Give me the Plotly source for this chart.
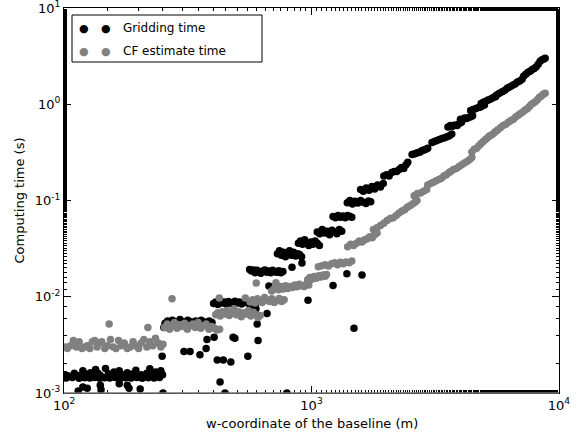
import plotly.graph_objects as go

# ---------------- data ----------------
grid_x = [
    # step 1 (~1.5e-3)
    101, 104, 107, 110, 113, 116, 119, 122, 125, 128, 131, 134, 137, 140, 143, 147, 151, 155, 159,
    163, 167, 171, 175, 180, 185, 190, 195, 200, 205, 210, 216, 222, 228, 234, 240, 246, 250,
    102, 108, 115, 121, 127, 133, 139, 146, 153, 161, 169, 177, 187, 197, 207, 219, 231, 243,
    114, 119, 140, 141, 180, 183, 203, 124, 167,
    # step 2 (~5.5e-3)
    249, 251, 253, 256, 262, 268, 274, 280, 287, 294, 301, 308, 316, 324, 332, 340, 349, 358, 367,
    376, 386, 396,
    305, 323, 354, 375, 378, 404, 416, 427, 440, 447, 472, 482, 490, 553, 603, 608, 661, 795,
    # step 3 (~8.7e-3)
    402, 410, 418, 426, 434, 443, 452, 461, 470, 480, 490, 500, 511, 522, 533, 545, 557, 569, 581,
    593, 585, 596,
    # step 4 (~1.8e-2)
    562, 572, 582, 592, 602, 613, 624, 635, 647, 659, 671, 684, 697, 710, 724, 738, 752, 766,
    834, 915, 673, 1222, 1390, 1600, 968, 1485,
    # step 5 (~2.8e-2)
    728, 742, 756, 770, 785, 800, 815, 830, 846, 862, 878, 895, 912,
    # step 6 (~3.6e-2)
    885, 902, 920, 938, 956, 975, 994, 1014, 1034, 1055, 1076,
    # step 7 (~4.7e-2)
    1055, 1080, 1105, 1130, 1156, 1183, 1210, 1238, 1267, 1296, 1325,
    # step 8 (~6.8e-2)
    1222, 1250, 1280, 1310, 1340, 1370, 1400, 1430, 1455,
    # step 9 (~0.1)
    1395, 1430, 1465, 1500, 1540, 1580, 1620, 1660, 1700, 1735,
    # step 10
    1580, 1620, 1665, 1710, 1755, 1800, 1850, 1900, 1950,
    # step 11
    1960, 2010, 2060, 2110, 2160, 2210, 2260, 2310, 2360, 2410, 2450,
    # step 12
    2550, 2600, 2650, 2700, 2750, 2800, 2850, 2900, 2950,
    # step 13
    3070, 3140, 3210, 3290, 3370, 3450, 3530, 3610, 3690,
    # step 14
    3560, 3640, 3720, 3800, 3880, 3960, 4040,
    # step 15
    4000, 4080, 4160, 4240, 4320, 4400, 4480,
    # step 16
    4400, 4500, 4600, 4700, 4800, 4900, 5000,
    # step 17
    4850, 4950, 5050, 5150, 5250, 5350, 5450, 5550,
    # step 18
    5600, 5750, 5900, 6050, 6200, 6350, 6500, 6650, 6800, 6950, 7100,
    # step 19
    7200, 7350, 7500, 7650, 7800, 7950, 8100, 8250, 8400, 8550, 8700, 8800,
]
grid_y = [
    0.00155, 0.0015, 0.00148, 0.0016, 0.00152, 0.00145, 0.0017, 0.00158, 0.0015, 0.00162, 0.00148,
    0.00175, 0.0016, 0.00152, 0.00145, 0.0018, 0.00158, 0.0015, 0.00165, 0.00148, 0.0017, 0.00155,
    0.0015, 0.00162, 0.00145, 0.00158, 0.00172, 0.0015, 0.00155, 0.00148, 0.0016, 0.00178, 0.00152,
    0.00165, 0.0015, 0.0017, 0.00155,
    0.00143, 0.00145, 0.00142, 0.00144, 0.00143, 0.00145, 0.00142, 0.00144, 0.00143, 0.00145,
    0.00142, 0.00144, 0.00143, 0.00145, 0.00142, 0.00144, 0.00143, 0.00145,
    0.00105, 0.00115, 0.0012, 0.00108, 0.0012, 0.00112, 0.0011, 0.00112, 0.00125,
    0.0024, 0.001, 0.0048, 0.0053, 0.0056, 0.0054, 0.0057, 0.0055, 0.0053, 0.0058, 0.0055, 0.0054,
    0.0057, 0.0055, 0.0053, 0.0056, 0.0054, 0.0057, 0.0055, 0.0053, 0.0056, 0.0054,
    0.0027, 0.0027, 0.0025, 0.0029, 0.0036, 0.0038, 0.0022, 0.0013, 0.0022, 0.001, 0.0021, 0.0038,
    0.0037, 0.0024, 0.0052, 0.0035, 0.0067, 0.001,
    0.0085, 0.0088, 0.0083, 0.009, 0.0086, 0.0088, 0.0084, 0.0089, 0.0087, 0.0083, 0.009, 0.0086,
    0.0088, 0.0084, 0.0087, 0.0089, 0.0085, 0.0083, 0.0087, 0.0082, 0.0078, 0.0075,
    0.0192, 0.0185, 0.019, 0.0178, 0.0188, 0.0182, 0.0175, 0.0185, 0.019, 0.018, 0.0185, 0.0178,
    0.0188, 0.0182, 0.018, 0.0186, 0.0178, 0.0183,
    0.0203, 0.0224, 0.0129, 0.0131, 0.0173, 0.0168, 0.0092, 0.0047,
    0.028, 0.03, 0.027, 0.029, 0.026, 0.028, 0.03, 0.027, 0.029, 0.0265, 0.028, 0.0275, 0.026,
    0.036, 0.038, 0.035, 0.039, 0.036, 0.034, 0.037, 0.035, 0.038, 0.036, 0.034,
    0.047, 0.045, 0.05, 0.046, 0.048, 0.044, 0.049, 0.047, 0.045, 0.05, 0.048,
    0.068, 0.066, 0.07, 0.067, 0.069, 0.066, 0.07, 0.068, 0.067,
    0.095, 0.1, 0.092, 0.098, 0.094, 0.1, 0.096, 0.093, 0.099, 0.097,
    0.13, 0.125, 0.135, 0.128, 0.14, 0.132, 0.145, 0.138, 0.15,
    0.18, 0.185, 0.18, 0.195, 0.2, 0.2, 0.21, 0.22, 0.215, 0.235, 0.25,
    0.3, 0.305, 0.31, 0.315, 0.32, 0.33, 0.335, 0.34, 0.35,
    0.4, 0.41, 0.42, 0.43, 0.44, 0.45, 0.46, 0.47, 0.49,
    0.58, 0.6, 0.59, 0.61, 0.6, 0.63, 0.65,
    0.7, 0.69, 0.72, 0.71, 0.73, 0.74, 0.76,
    0.86, 0.88, 0.9, 0.92, 0.93, 0.96, 0.98,
    1.02, 1.05, 1.07, 1.1, 1.12, 1.15, 1.18, 1.2,
    1.25, 1.3, 1.35, 1.4, 1.48, 1.52, 1.58, 1.62, 1.7, 1.75, 1.82,
    1.95, 2.05, 2.15, 2.2, 2.3, 2.35, 2.45, 2.6, 2.8, 2.9, 2.95, 3.0,
]

cf_x = [
    # step 1 (~3e-3)
    101, 103, 106, 109, 112, 115, 118, 121, 124, 127, 130, 133, 136, 139, 142, 146, 150, 154, 158,
    162, 166, 170, 175, 180, 185, 190, 195, 200, 205, 210, 216, 222, 228, 234, 240, 246, 251,
    152, 218,
    # step 2 (~5e-3)
    255, 261, 267, 273, 279, 286, 293, 300, 307, 315, 323, 331, 339, 348, 357, 366, 375, 385, 395,
    405, 415, 425, 273,
    # step 3 (~6.7e-3)
    410, 418, 427, 436, 445, 455, 465, 475, 486, 497, 508, 520, 532, 544, 556, 569, 582, 595, 608,
    620, 424, 540,
    # step 4 (~9e-3)
    565, 578, 591, 604, 618, 632, 646, 661, 676, 691, 707, 723, 740, 757, 775, 598, 718,
    # step 5
    690, 705, 720, 736, 752, 768, 785, 802, 820, 838, 856, 875, 894, 914, 934, 955, 975,
    # step 6
    965, 985, 1005, 1025, 1046, 1068, 1090, 1112, 1135, 1150,
    # step 7
    1065, 1100, 1135, 1170, 1205, 1240, 1275, 1310, 1345, 1380, 1420, 1455,
    # step 8
    1400, 1440, 1480, 1520, 1560, 1600, 1640, 1680, 1720, 1760, 1800, 1840,
    # step 9
    1780, 1840, 1900, 1960, 2020, 2080, 2140, 2200, 2260, 2320, 2380, 2440, 2500, 2560, 2620, 2670,
    # step 10
    2600, 2680, 2760, 2840, 2920,
    # step 11
    2950, 3030, 3110, 3190, 3270, 3350, 3430, 3510, 3600,
    # step 12
    3650, 3750, 3850, 3950, 4050, 4150, 4250, 4350, 4450,
    # step 13
    4450, 4550, 4650, 4750, 4850, 4950,
    # step 14
    5050, 5150, 5250, 5350, 5450, 5550,
    # step 15
    5650, 5800, 5950, 6100, 6250, 6400, 6550,
    # step 16
    6700, 6850, 7000, 7150, 7300, 7450,
    # step 17
    7600, 7750, 7900, 8050, 8200,
    # step 18
    8350, 8500, 8650, 8800,
]
cf_y = [
    0.003, 0.0029, 0.0031, 0.0035, 0.003, 0.0034, 0.0029, 0.003, 0.0031, 0.0029, 0.0034, 0.0035,
    0.003, 0.0033, 0.0034, 0.0029, 0.0031, 0.0036, 0.003, 0.0029, 0.0035, 0.0031, 0.0033, 0.0029,
    0.003, 0.0034, 0.0031, 0.0029, 0.0033, 0.0036, 0.003, 0.0034, 0.0031, 0.0037, 0.0033, 0.003,
    0.0032,
    0.0052, 0.0048,
    0.0048, 0.0052, 0.0046, 0.005, 0.0054, 0.0047, 0.0051, 0.0049, 0.0053, 0.0046, 0.005, 0.0052,
    0.0048, 0.0054, 0.0047, 0.005, 0.0052, 0.0046, 0.0049, 0.0047, 0.0045, 0.0046, 0.0095,
    0.0065, 0.0068, 0.0063, 0.007, 0.0066, 0.0072, 0.0064, 0.0068, 0.0075, 0.0065, 0.007, 0.0062,
    0.0068, 0.0066, 0.0072, 0.0063, 0.0069, 0.0065, 0.0061, 0.0064, 0.0097, 0.0097,
    0.0088, 0.0093, 0.0086, 0.0095, 0.009, 0.0087, 0.0098, 0.0092, 0.0089, 0.0095, 0.0087, 0.0091,
    0.0096, 0.0089, 0.0093, 0.0139, 0.014,
    0.0115, 0.012, 0.0125, 0.0118, 0.0128, 0.012, 0.013, 0.0122, 0.0128, 0.0125, 0.0132, 0.0127,
    0.0135, 0.013, 0.0128, 0.0136, 0.0132,
    0.015, 0.0158, 0.0152, 0.0162, 0.0156, 0.0165, 0.016, 0.0168, 0.0163, 0.017,
    0.0205, 0.021, 0.0215, 0.0208, 0.022, 0.0225, 0.0215, 0.0228, 0.022, 0.023, 0.0225, 0.0235,
    0.033, 0.035, 0.034, 0.036, 0.038, 0.037, 0.039, 0.04, 0.042, 0.041, 0.044, 0.046,
    0.05, 0.052, 0.055, 0.058, 0.062, 0.065, 0.066, 0.07, 0.074, 0.078, 0.08, 0.085, 0.088, 0.092,
    0.096, 0.1,
    0.112, 0.118, 0.12, 0.125, 0.13,
    0.145, 0.15, 0.155, 0.16, 0.165, 0.17, 0.18, 0.185, 0.195,
    0.2, 0.21, 0.215, 0.225, 0.235, 0.245, 0.255, 0.265, 0.28,
    0.32, 0.34, 0.35, 0.37, 0.39, 0.41,
    0.43, 0.45, 0.47, 0.48, 0.5, 0.52,
    0.54, 0.57, 0.6, 0.62, 0.65, 0.68, 0.7,
    0.74, 0.77, 0.8, 0.83, 0.87, 0.9,
    0.95, 1.0, 1.03, 1.07, 1.12,
    1.18, 1.22, 1.27, 1.3,
]

series_names = ["Gridding time", "CF estimate time"]
series_colors = ["#000000", "#808080"]

x_tickvals = [100, 1000, 10000]
x_ticktext = ["10<sup>2</sup>", "10<sup>3</sup>", "10<sup>4</sup>"]
y_tickvals = [0.001, 0.01, 0.1, 1, 10]
y_ticktext = ["10<sup>-3</sup>", "10<sup>-2</sup>", "10<sup>-1</sup>", "10<sup>0</sup>", "10<sup>1</sup>"]
x_title = "w-coordinate of the baseline (m)"
y_title = "Computing time (s)"

FONT = "DejaVu Sans"
W, H = 582, 438
ML, MR, MT, MB = 64, 23, 8, 45
PW, PH = W - ML - MR, H - MT - MB


def px_x(p):
    return (p - ML) / PW


def px_y(p):
    return (H - MB - p) / PH


fig = go.Figure()
for xs, ys, name, col in [(grid_x, grid_y, series_names[0], series_colors[0]),
                          (cf_x, cf_y, series_names[1], series_colors[1])]:
    fig.add_trace(go.Scatter(
        x=xs, y=ys, mode="markers", name=name, showlegend=False,
        marker=dict(color=col, size=7.5, line=dict(width=0)),
    ))

axis_common = dict(
    type="log", showgrid=False, zeroline=False, showline=True, linecolor="black",
    linewidth=1, mirror="allticks", ticks="inside", ticklen=7, tickcolor="black",
    tickfont=dict(family=FONT, size=13, color="black"), ticklabeloverflow="allow",
    minor=dict(ticks="inside", ticklen=3, tickcolor="black", showgrid=False),
)

# legend drawn like the reference (two sample dots per entry)
shapes = [
    dict(type="rect", xref="paper", yref="paper",
         x0=px_x(72), x1=px_x(262), y0=px_y(62), y1=px_y(15),
         line=dict(color="black", width=1), fillcolor="white", layer="above"),
    dict(type="line", xref="paper", yref="paper", x0=0, x1=1, y0=0, y1=0,
         line=dict(color="#777777", width=1.5), layer="above"),
]
annotations = []
for i, (name, col) in enumerate(zip(series_names, series_colors)):
    yy = px_y(28 + 23 * i)
    for dx in (84, 106):
        annotations.append(dict(
            x=px_x(dx), y=yy, xref="paper", yref="paper", text="●", showarrow=False,
            xanchor="center", yanchor="middle", font=dict(family=FONT, size=11, color=col)))
    annotations.append(dict(
        x=px_x(121), y=yy, xref="paper", yref="paper", text=name, showarrow=False,
        xanchor="left", yanchor="middle", font=dict(family=FONT, size=12, color="black")))

# x-axis title placed as in the reference
annotations.append(dict(
    x=0.5, y=px_y(423), xref="paper", yref="paper", text=x_title, showarrow=False,
    xanchor="center", yanchor="middle", font=dict(family=FONT, size=13, color="black")))

fig.update_layout(
    width=W, height=H,
    margin=dict(l=ML, r=MR, t=MT, b=MB),
    paper_bgcolor="white", plot_bgcolor="white",
    font=dict(family=FONT, color="black"),
    showlegend=False,
    shapes=shapes,
    annotations=annotations,
    xaxis=dict(
        axis_common, range=[1.9995, 4.0005], tickvals=x_tickvals, ticktext=x_ticktext,
    ),
    yaxis=dict(
        axis_common, range=[-3.0005, 1.0005], tickvals=y_tickvals, ticktext=y_ticktext,
        title=dict(text=y_title, font=dict(family=FONT, size=13), standoff=7),
    ),
)
fig.update_xaxes(automargin=False)
fig.update_yaxes(automargin=False)

fig.write_html("out.html", config={"displayModeBar": False},
               post_script="document.body.style.margin='0px';")
